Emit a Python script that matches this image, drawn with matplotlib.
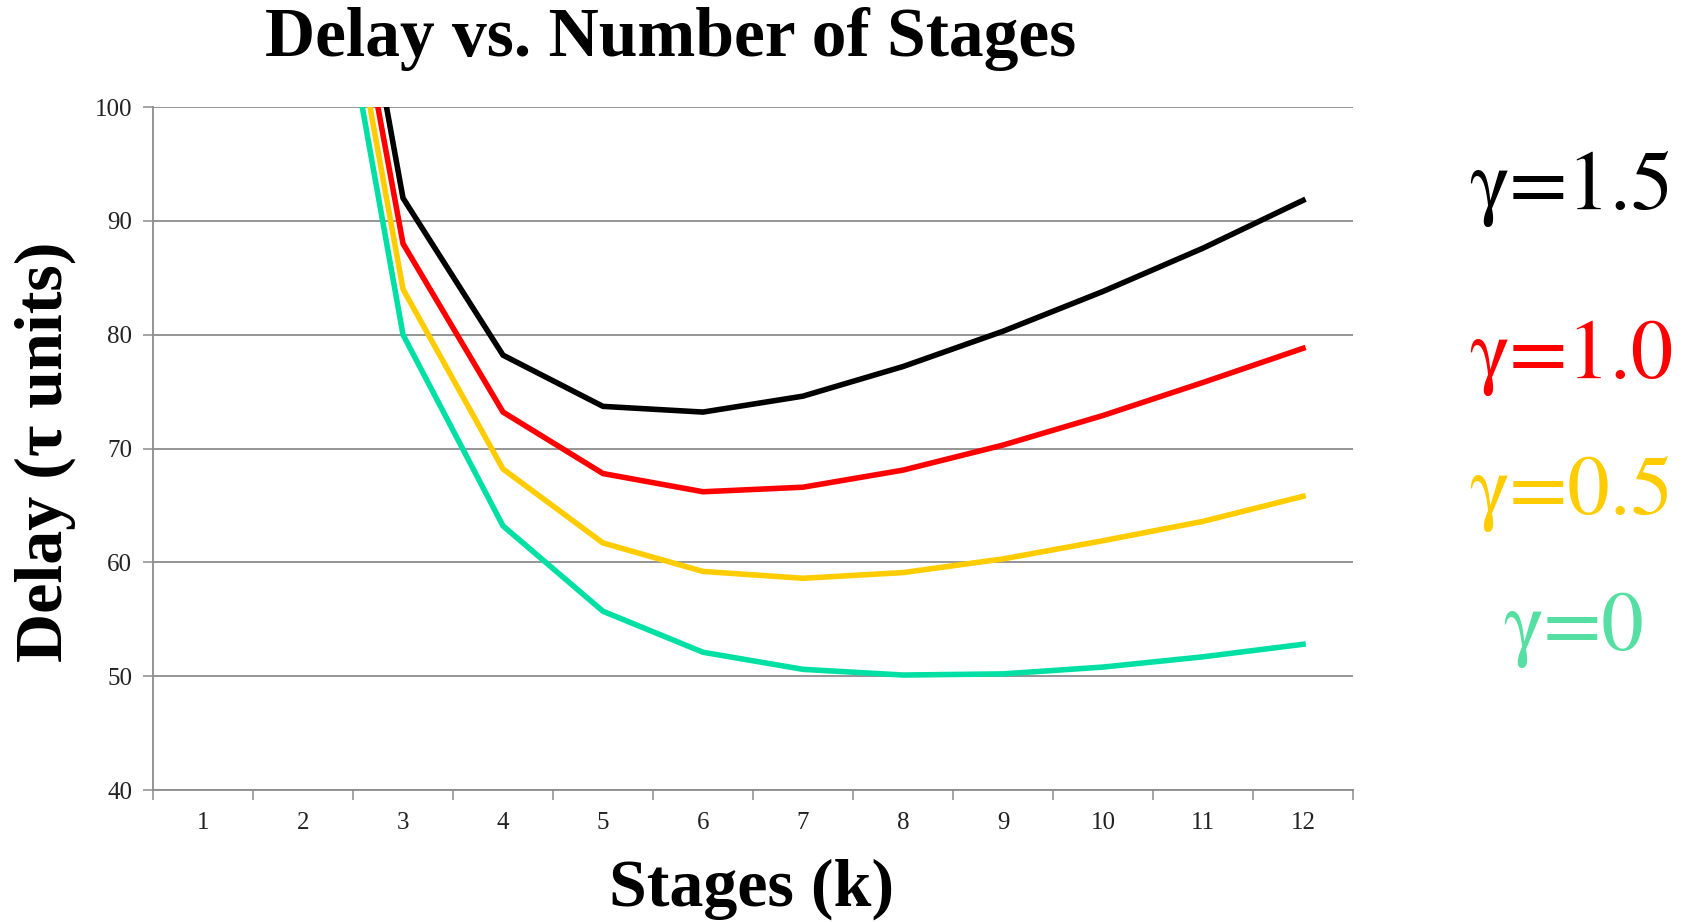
import numpy as np
import matplotlib
matplotlib.use("Agg")
import matplotlib.pyplot as plt

# stages and delay (tau units) per gamma, values above 100 fall off the chart
stages = [1, 2, 3, 4, 5, 6, 7, 8, 9, 10, 11, 12]
delay_g0 = [300, 129.1, 80.0, 63.2, 55.7, 52.1, 50.6, 50.1, 50.2, 50.8, 51.7, 52.8]
delay_g05 = [310, 132.5, 84.0, 68.2, 61.7, 59.2, 58.6, 59.1, 60.3, 61.9, 63.6, 65.8]
delay_g10 = [320, 135.8, 88.0, 73.2, 67.8, 66.2, 66.6, 68.1, 70.3, 72.9, 75.8, 78.8]
delay_g15 = [330, 140.5, 92.0, 78.2, 73.7, 73.2, 74.6, 77.2, 80.3, 83.8, 87.6, 91.8]
gamma_labels = ["γ=0", "γ=0.5", "γ=1.0", "γ=1.5"]
yticks = [40, 50, 60, 70, 80, 90, 100]

line_cols = ["#00E0A4", "#FFCC00", "#FF0000", "#000000"]
text_cols = ["#55DFA3", "#FFCC00", "#FF0000", "#000000"]
grid_col = "#8C8C8C"
serif = ["Liberation Serif", "DejaVu Serif"]

W, H = 1689, 922
fig = plt.figure(figsize=(W / 100, H / 100), dpi=100)
ax = fig.add_axes([153 / W, 1 - 790 / H, (1353 - 153) / W, (790 - 107) / H])

for ys, c in zip([delay_g0, delay_g05, delay_g10, delay_g15], line_cols):
    ax.plot(stages, ys, color=c, lw=4.0, solid_joinstyle="miter", zorder=3)

ax.set_xlim(0.5, 12.5)
ax.set_ylim(40, 100)
ax.set_yticks(yticks)
ax.set_xticks(stages)
ax.set_xticks(np.arange(0.5, 13, 1), minor=True)
ax.tick_params(axis="x", which="major", length=0, pad=16, labelsize=18)
ax.tick_params(axis="x", which="minor", length=7, width=1.1, color=grid_col, direction="out")
ax.tick_params(axis="y", length=7, width=1.1, color=grid_col, pad=8, labelsize=18)
for lab in ax.get_xticklabels() + ax.get_yticklabels():
    lab.set_family(serif)
    lab.set_color("#222222")

ax.yaxis.grid(True, color=grid_col, lw=1.3)
ax.set_axisbelow(True)
for s in ["top", "right"]:
    ax.spines[s].set_visible(False)
for s in ["left", "bottom"]:
    ax.spines[s].set_color(grid_col)
    ax.spines[s].set_linewidth(1.3)

fig.text(671 / W, 1 - 56 / H, "Delay vs. Number of Stages", ha="center", va="baseline",
         fontsize=50, fontweight="bold", family=serif)
fig.text(45 / W, 1 - 452 / H, "Delay (τ units)", ha="center", va="center", rotation=90,
         fontsize=49, fontweight="bold", family=serif)
fig.text(752 / W, 1 - 889 / H, "Stages (k)", ha="center", va="center",
         fontsize=49, fontweight="bold", family=serif)

# right-hand labels, top to bottom
label_pos = [(1573, 650), (1571, 514), (1571, 378), (1571, 209)]
for lab, c, (x, y) in zip(gamma_labels, text_cols, label_pos):
    fig.text(x / W, 1 - y / H, lab, ha="center", va="baseline", color=c,
             fontsize=61, family=["STIXGeneral", "Liberation Serif"])

fig.savefig("out.png", dpi=100)
